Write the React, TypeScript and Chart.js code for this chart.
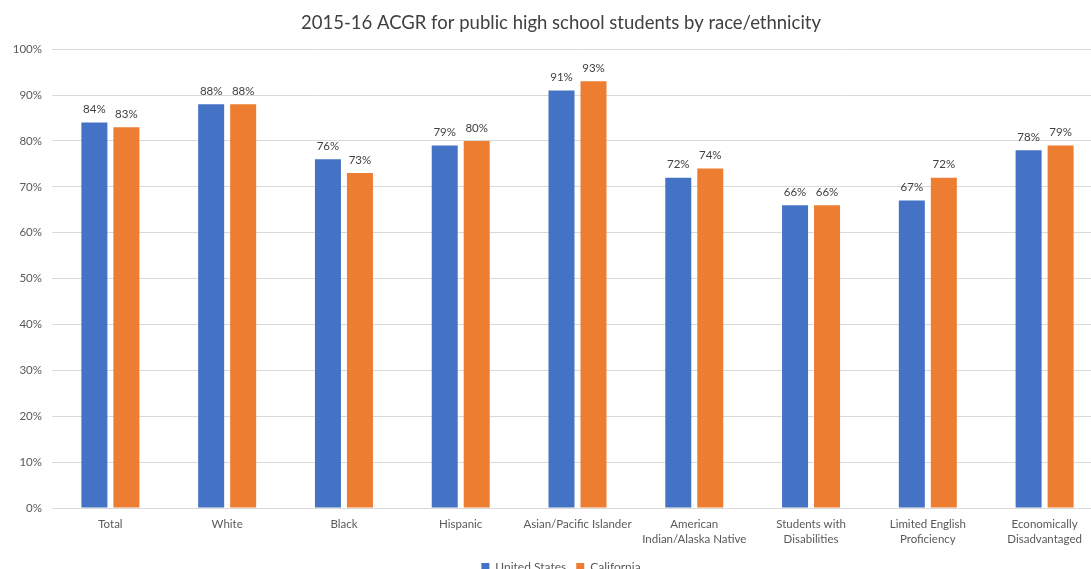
import React, { useEffect, useRef } from "react";
import { Chart, registerables } from "chart.js";

Chart.register(...registerables);

const categories: (string | string[])[] = [
  "Total",
  "White",
  "Black",
  "Hispanic",
  "Asian/Pacific Islander",
  ["American", "Indian/Alaska Native"],
  ["Students with", "Disabilities"],
  ["Limited English", "Proficiency"],
  ["Economically", "Disadvantaged"],
];
const unitedStates = [84, 88, 76, 79, 91, 72, 66, 67, 78];
const california = [83, 88, 73, 80, 93, 74, 66, 72, 79];
const seriesNames = ["United States", "California"];
const chartTitle = "2015-16 ACGR for public high school students by race/ethnicity";

const FONT = "Lato, 'Open Sans', sans-serif";

const labelPlugin = {
  id: "barLabels",
  afterDatasetsDraw(chart: any) {
    const ctx = chart.ctx;
    ctx.save();
    ctx.font = `11.5px ${FONT}`;
    ctx.fillStyle = "#404040";
    ctx.textAlign = "center";
    ctx.textBaseline = "middle";
    chart.data.datasets.forEach((ds: any, i: number) => {
      const meta = chart.getDatasetMeta(i);
      meta.data.forEach((el: any, j: number) => {
        ctx.fillText(ds.data[j] + "%", el.x, el.y - 13);
      });
    });
    ctx.restore();
  },
};

const bgPlugin = {
  id: "bg",
  beforeDraw(chart: any) {
    const ctx = chart.ctx;
    ctx.save();
    ctx.fillStyle = "#ffffff";
    ctx.fillRect(0, 0, chart.width, chart.height);
    ctx.restore();
  },
};

export default function App() {
  const ref = useRef<HTMLCanvasElement>(null);
  useEffect(() => {
    if (!ref.current) return;
    const chart = new Chart(ref.current, {
      type: "bar",
      data: {
        labels: categories,
        datasets: [
          {
            label: seriesNames[0],
            data: unitedStates,
            backgroundColor: "#4472C4",
            barPercentage: 0.8125,
            categoryPercentage: 0.548,
            yAxisID: "y",
          },
          {
            label: seriesNames[1],
            data: california,
            backgroundColor: "#ED7D31",
            barPercentage: 0.8125,
            categoryPercentage: 0.548,
            yAxisID: "y",
          },
        ],
      },
      options: {
        responsive: false,
        animation: false,
        layout: { padding: { left: 0, right: 0, top: 12, bottom: 17 } },
        plugins: {
          title: {
            display: true,
            text: chartTitle,
            color: "#404040",
            font: { family: FONT, size: 18.5, weight: "normal" },
            padding: { top: 0, bottom: 15 },
          },
          legend: {
            position: "bottom",
            labels: {
              color: "#595959",
              font: { family: FONT, size: 12 },
              boxWidth: 8,
              boxHeight: 8,
              padding: 10,
            },
          },
          tooltip: { enabled: false },
        },
        scales: {
          x: {
            grid: { display: false },
            border: { color: "#d9d9d9" },
            ticks: {
              color: "#595959",
              font: { family: FONT, size: 11.5, lineHeight: 1.3 },
              maxRotation: 0,
              autoSkip: false,
              padding: 1,
            },
            afterFit: (s: any) => {
              s.height = 43;
            },
          },
          y: {
            min: 0,
            max: 100,
            ticks: {
              stepSize: 10,
              color: "#595959",
              font: { family: FONT, size: 11.5 },
              padding: 10,
              callback: (v: any) => v + "%",
            },
            grid: { color: "#d9d9d9", drawTicks: false },
            border: { display: false },
            afterFit: (s: any) => {
              s.width = 52;
            },
          },
          yPad: {
            position: "right",
            min: 0,
            max: 100,
            grid: { display: false },
            border: { display: false },
            ticks: { display: false },
            afterFit: (s: any) => {
              s.width = 19;
            },
          },
        },
      },
      plugins: [bgPlugin, labelPlugin],
    });
    return () => chart.destroy();
  }, []);
  return (
    <div style={{ position: "fixed", left: 0, top: 0, width: 1091, height: 569, overflow: "hidden", background: "#fff" }}>
      <canvas ref={ref} width={1122} height={600} style={{ display: "block" }} />
    </div>
  );
}
